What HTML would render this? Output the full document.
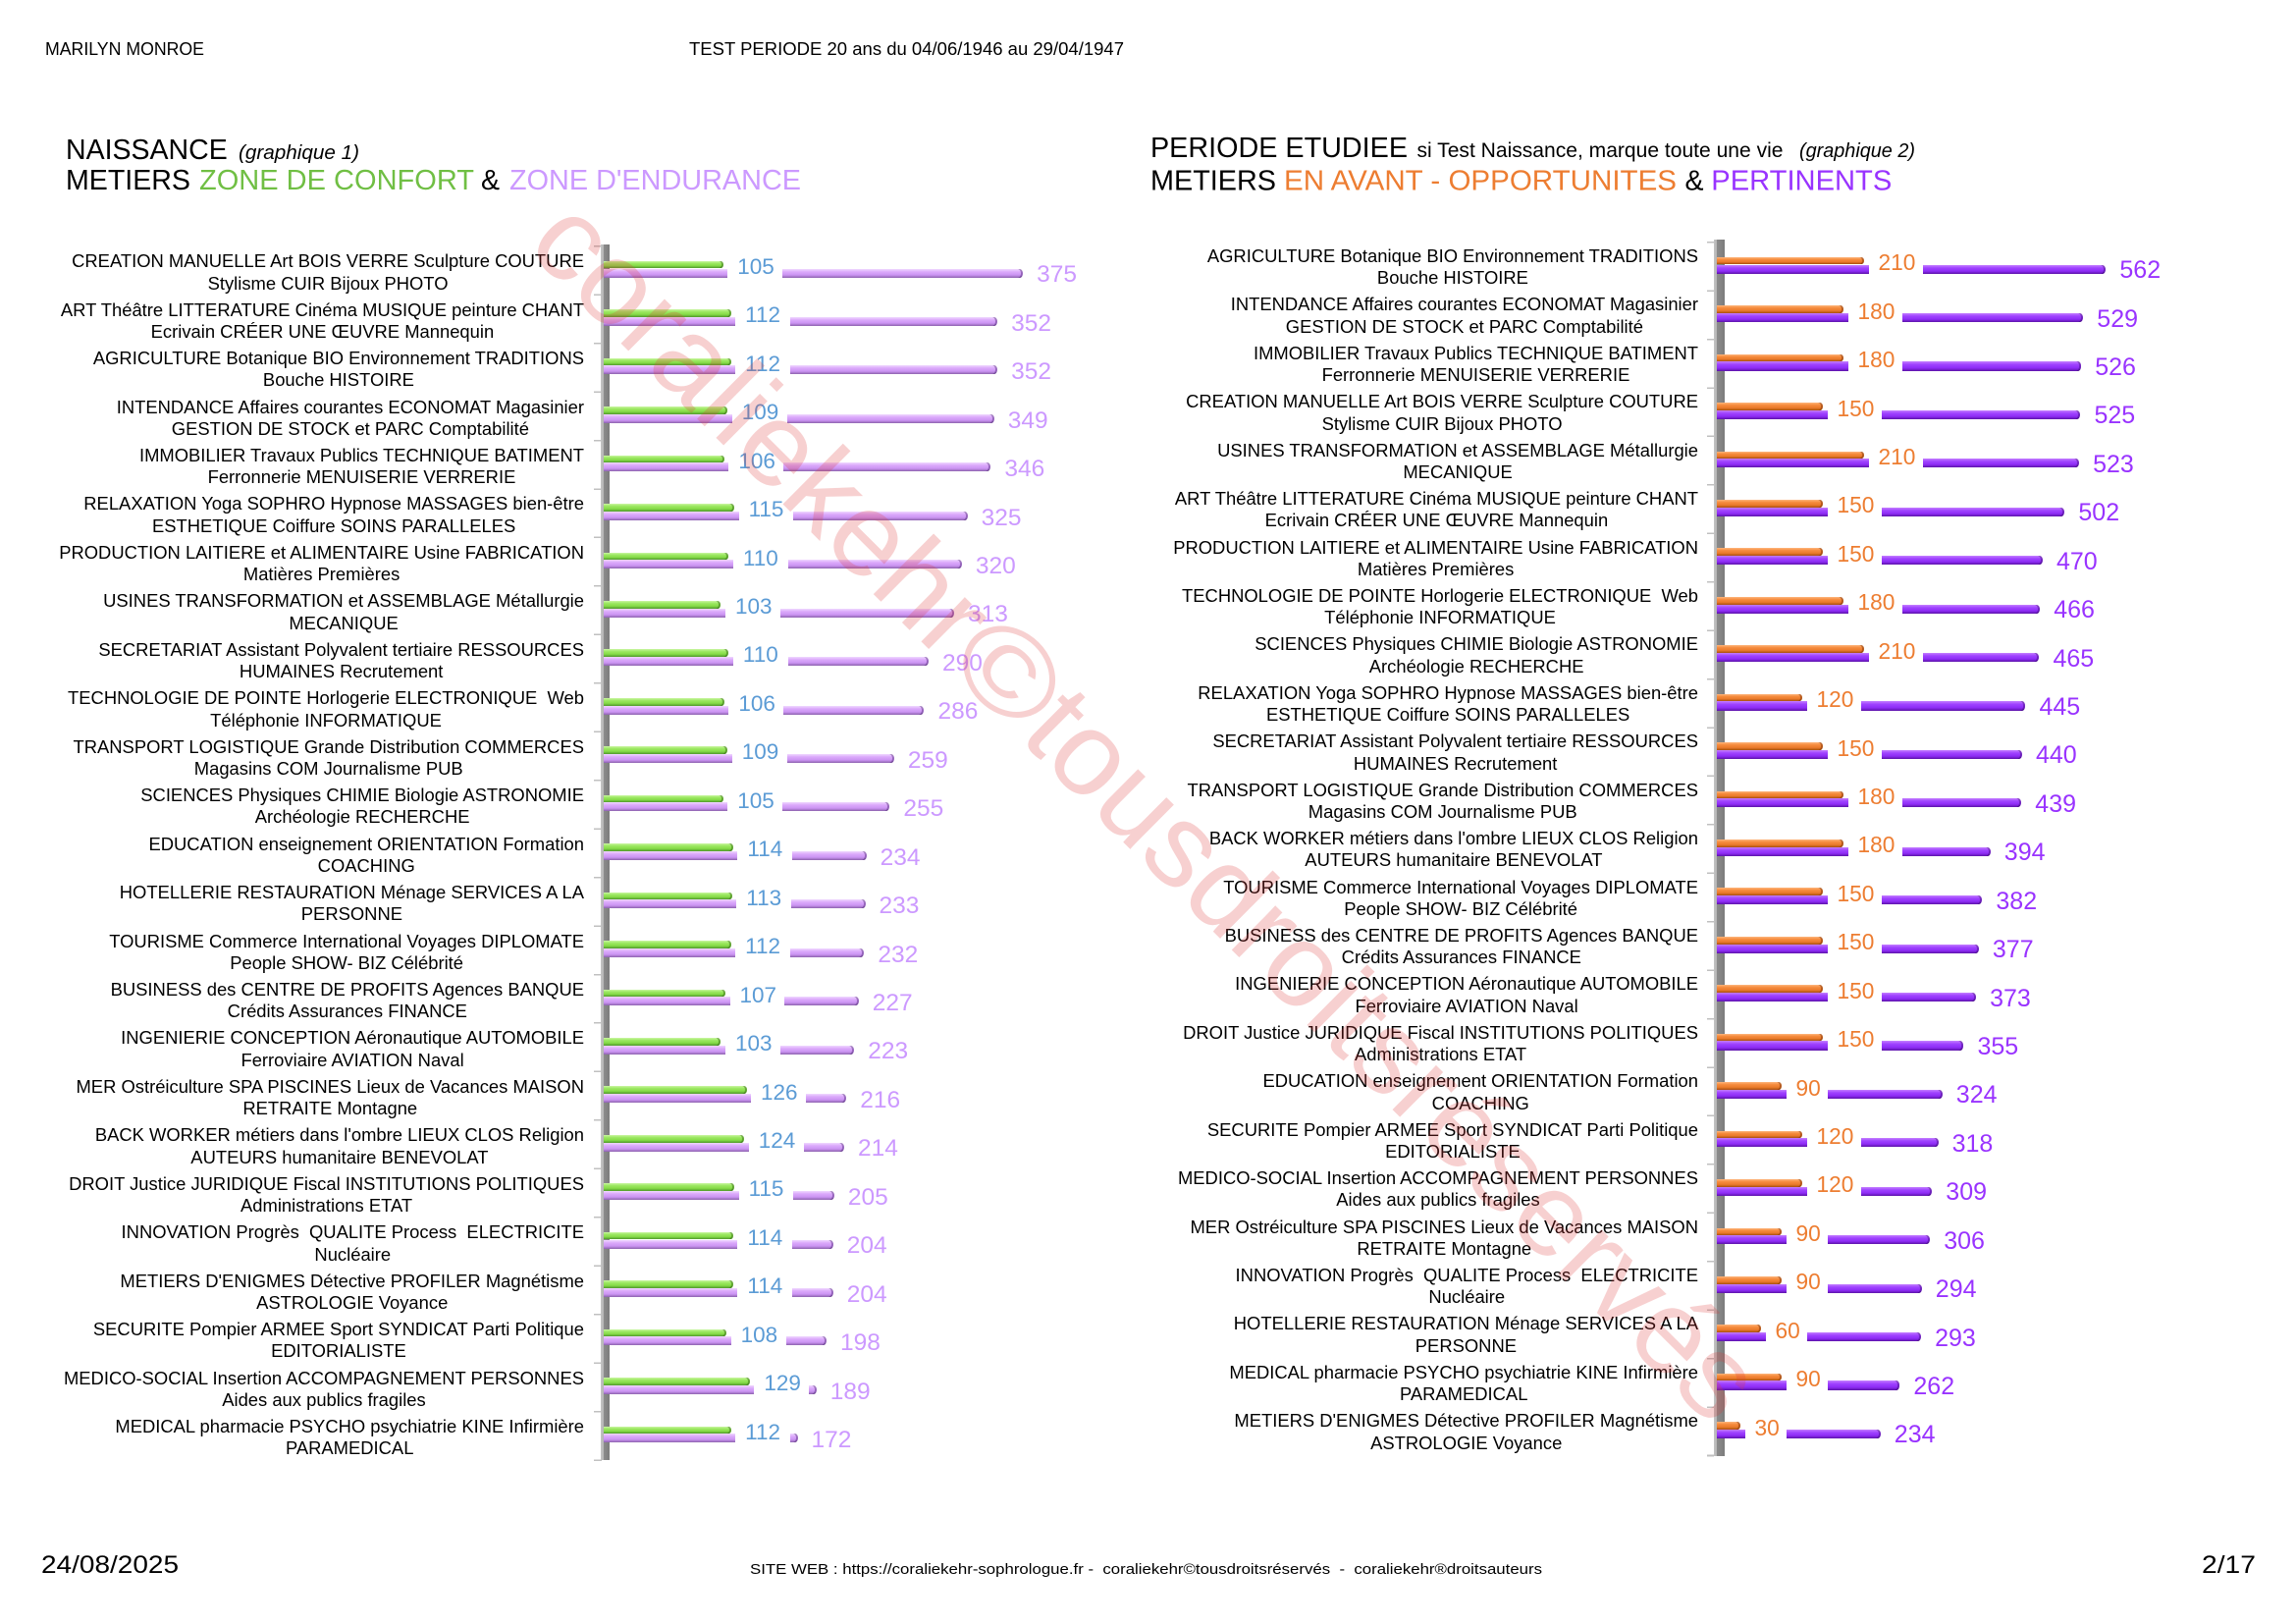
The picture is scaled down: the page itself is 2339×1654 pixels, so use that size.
<!DOCTYPE html>
<html>
<head>
<meta charset="utf-8">
<style>
*{margin:0;padding:0;box-sizing:border-box}
html,body{width:2339px;height:1654px}
body{position:relative;overflow:hidden;background:#fff;font-family:"Liberation Sans",Arial,sans-serif;color:#000}
.r{position:absolute;left:0;width:2339px;height:0}
.r>span{position:absolute;display:block}
.L{top:calc(275.3px + 49.45px*var(--i))}
.R{top:calc(271.7px + 49.43px*var(--i))}
.lab{font-size:18.4px;line-height:22.3px;text-align:center;white-space:pre;color:#000}
.L .lab{right:1744px;top:-20.1px}
.R .lab{right:609px;top:-21.7px}
.v1,.v2{white-space:nowrap;line-height:1;font-weight:normal}
.gg{background:linear-gradient(#cbf6a3 0%,#9de863 30%,#86dc48 65%,#4f982b 100%);border-radius:0 3px 3px 0/0 4px 4px 0;box-shadow:inset -2px 0 0 rgba(40,90,10,.45)}
.ll{background:linear-gradient(#f0d8ff 0%,#dba9fb 32%,#cb94f2 68%,#8c62ad 100%)}
.oo{background:linear-gradient(#fdb67e 0%,#f68c3e 32%,#ea7a2a 68%,#a6500f 100%);border-radius:0 3px 3px 0/0 4px 4px 0;box-shadow:inset -2px 0 0 rgba(110,40,0,.45)}
.pp{background:linear-gradient(#c47fff 0%,#a043ff 32%,#8e2cf5 68%,#5c14a8 100%)}
.cap{border-radius:0 3px 3px 0/0 4.5px 4.5px 0;box-shadow:inset -2px 0 0 rgba(40,0,80,.35)}
/* left chart */
.L .g{left:615px;top:-9.5px;height:7.7px;width:calc(3px + 1.131px*var(--a))}
.L .p1{left:615px;top:-1.8px;height:9px;width:calc(7.5px + 1.131px*var(--a))}
.L .v1{left:calc(632.5px + 1.131px*var(--a));top:-14.45px;font-size:22.5px;color:#5b9bd5}
.L .p2{left:calc(678.4px + 1.131px*var(--a));top:-1.8px;height:9px;width:calc(1.131px*(var(--b) - var(--a)) - 60.4px)}
.L .v2{left:calc(632px + 1.131px*var(--b));top:-7.04px;font-size:24.5px;color:#cc99ff}
/* right chart */
.R{--n:3}
.R .g{left:1749px;top:-9.8px;height:7.6px;width:calc(3px + 0.7px*var(--a))}
.R .p1{left:1749px;top:-2.2px;height:9.2px;width:calc(7.5px + 0.7px*var(--a))}
.R .v1{left:calc(1766.5px + 0.7px*var(--a));top:-15.4px;font-size:22.7px;color:#ed7d31}
.R .p2{left:calc(1772.5px + 0.7px*var(--a) + 13.3px*var(--n));top:-2.2px;height:9.2px;width:calc(0.7px*(var(--b) - var(--a)) - 20.5px - 13.3px*var(--n))}
.R .v2{left:calc(1766px + 0.7px*var(--b));top:-8.56px;font-size:25px;color:#9933ff}
.wall{position:absolute}
</style>
</head>
<body>

<!-- walls & ticks -->
<div class="wall" style="left:612px;top:249px;width:9px;height:1238px;background:linear-gradient(to right,#c4c4c4 0,#b4b4b4 3px,#8c8c8c 3px,#7c7c7c 100%)"></div>
<div class="wall" style="left:605px;top:250px;width:8px;height:1238px;background:repeating-linear-gradient(to bottom,#c0c0c0 0,#c0c0c0 1.5px,transparent 1.5px,transparent 49.45px)"></div>
<div class="wall" style="left:1745.5px;top:244px;width:11px;height:1239px;background:linear-gradient(to right,#c4c4c4 0,#b4b4b4 3px,#8c8c8c 3px,#7c7c7c 100%)"></div>
<div class="wall" style="left:1739px;top:246.3px;width:7px;height:1238px;background:repeating-linear-gradient(to bottom,#c0c0c0 0,#c0c0c0 1.5px,transparent 1.5px,transparent 49.43px)"></div>

<!-- LEFT CHART -->
<div class="r L" style="--i:0;--a:105;--b:375"><span class="lab">CREATION MANUELLE Art BOIS VERRE Sculpture COUTURE<br>Stylisme CUIR Bijoux PHOTO</span><span class="g gg"></span><span class="p1 ll"></span><span class="v1">105</span><span class="p2 ll cap"></span><span class="v2">375</span></div>
<div class="r L" style="--i:1;--a:112;--b:352"><span class="lab">ART Théâtre LITTERATURE Cinéma MUSIQUE peinture CHANT<br>Ecrivain CRÉER UNE ŒUVRE Mannequin</span><span class="g gg"></span><span class="p1 ll"></span><span class="v1">112</span><span class="p2 ll cap"></span><span class="v2">352</span></div>
<div class="r L" style="--i:2;--a:112;--b:352"><span class="lab">AGRICULTURE Botanique BIO Environnement TRADITIONS<br>Bouche HISTOIRE</span><span class="g gg"></span><span class="p1 ll"></span><span class="v1">112</span><span class="p2 ll cap"></span><span class="v2">352</span></div>
<div class="r L" style="--i:3;--a:109;--b:349"><span class="lab">INTENDANCE Affaires courantes ECONOMAT Magasinier<br>GESTION DE STOCK et PARC Comptabilité</span><span class="g gg"></span><span class="p1 ll"></span><span class="v1">109</span><span class="p2 ll cap"></span><span class="v2">349</span></div>
<div class="r L" style="--i:4;--a:106;--b:346"><span class="lab">IMMOBILIER Travaux Publics TECHNIQUE BATIMENT<br>Ferronnerie MENUISERIE VERRERIE</span><span class="g gg"></span><span class="p1 ll"></span><span class="v1">106</span><span class="p2 ll cap"></span><span class="v2">346</span></div>
<div class="r L" style="--i:5;--a:115;--b:325"><span class="lab">RELAXATION Yoga SOPHRO Hypnose MASSAGES bien-être<br>ESTHETIQUE Coiffure SOINS PARALLELES</span><span class="g gg"></span><span class="p1 ll"></span><span class="v1">115</span><span class="p2 ll cap"></span><span class="v2">325</span></div>
<div class="r L" style="--i:6;--a:110;--b:320"><span class="lab">PRODUCTION LAITIERE et ALIMENTAIRE Usine FABRICATION<br>Matières Premières</span><span class="g gg"></span><span class="p1 ll"></span><span class="v1">110</span><span class="p2 ll cap"></span><span class="v2">320</span></div>
<div class="r L" style="--i:7;--a:103;--b:313"><span class="lab">USINES TRANSFORMATION et ASSEMBLAGE Métallurgie<br>MECANIQUE</span><span class="g gg"></span><span class="p1 ll"></span><span class="v1">103</span><span class="p2 ll cap"></span><span class="v2">313</span></div>
<div class="r L" style="--i:8;--a:110;--b:290"><span class="lab">SECRETARIAT Assistant Polyvalent tertiaire RESSOURCES<br>HUMAINES Recrutement</span><span class="g gg"></span><span class="p1 ll"></span><span class="v1">110</span><span class="p2 ll cap"></span><span class="v2">290</span></div>
<div class="r L" style="--i:9;--a:106;--b:286"><span class="lab">TECHNOLOGIE DE POINTE Horlogerie ELECTRONIQUE  Web<br>Téléphonie INFORMATIQUE</span><span class="g gg"></span><span class="p1 ll"></span><span class="v1">106</span><span class="p2 ll cap"></span><span class="v2">286</span></div>
<div class="r L" style="--i:10;--a:109;--b:259"><span class="lab">TRANSPORT LOGISTIQUE Grande Distribution COMMERCES<br>Magasins COM Journalisme PUB</span><span class="g gg"></span><span class="p1 ll"></span><span class="v1">109</span><span class="p2 ll cap"></span><span class="v2">259</span></div>
<div class="r L" style="--i:11;--a:105;--b:255"><span class="lab">SCIENCES Physiques CHIMIE Biologie ASTRONOMIE<br>Archéologie RECHERCHE</span><span class="g gg"></span><span class="p1 ll"></span><span class="v1">105</span><span class="p2 ll cap"></span><span class="v2">255</span></div>
<div class="r L" style="--i:12;--a:114;--b:234"><span class="lab">EDUCATION enseignement ORIENTATION Formation<br>COACHING</span><span class="g gg"></span><span class="p1 ll"></span><span class="v1">114</span><span class="p2 ll cap"></span><span class="v2">234</span></div>
<div class="r L" style="--i:13;--a:113;--b:233"><span class="lab">HOTELLERIE RESTAURATION Ménage SERVICES A LA<br>PERSONNE</span><span class="g gg"></span><span class="p1 ll"></span><span class="v1">113</span><span class="p2 ll cap"></span><span class="v2">233</span></div>
<div class="r L" style="--i:14;--a:112;--b:232"><span class="lab">TOURISME Commerce International Voyages DIPLOMATE<br>People SHOW- BIZ Célébrité</span><span class="g gg"></span><span class="p1 ll"></span><span class="v1">112</span><span class="p2 ll cap"></span><span class="v2">232</span></div>
<div class="r L" style="--i:15;--a:107;--b:227"><span class="lab">BUSINESS des CENTRE DE PROFITS Agences BANQUE<br>Crédits Assurances FINANCE</span><span class="g gg"></span><span class="p1 ll"></span><span class="v1">107</span><span class="p2 ll cap"></span><span class="v2">227</span></div>
<div class="r L" style="--i:16;--a:103;--b:223"><span class="lab">INGENIERIE CONCEPTION Aéronautique AUTOMOBILE<br>Ferroviaire AVIATION Naval</span><span class="g gg"></span><span class="p1 ll"></span><span class="v1">103</span><span class="p2 ll cap"></span><span class="v2">223</span></div>
<div class="r L" style="--i:17;--a:126;--b:216"><span class="lab">MER Ostréiculture SPA PISCINES Lieux de Vacances MAISON<br>RETRAITE Montagne</span><span class="g gg"></span><span class="p1 ll"></span><span class="v1">126</span><span class="p2 ll cap"></span><span class="v2">216</span></div>
<div class="r L" style="--i:18;--a:124;--b:214"><span class="lab">BACK WORKER métiers dans l'ombre LIEUX CLOS Religion<br>AUTEURS humanitaire BENEVOLAT</span><span class="g gg"></span><span class="p1 ll"></span><span class="v1">124</span><span class="p2 ll cap"></span><span class="v2">214</span></div>
<div class="r L" style="--i:19;--a:115;--b:205"><span class="lab">DROIT Justice JURIDIQUE Fiscal INSTITUTIONS POLITIQUES<br>Administrations ETAT</span><span class="g gg"></span><span class="p1 ll"></span><span class="v1">115</span><span class="p2 ll cap"></span><span class="v2">205</span></div>
<div class="r L" style="--i:20;--a:114;--b:204"><span class="lab">INNOVATION Progrès  QUALITE Process  ELECTRICITE<br>Nucléaire</span><span class="g gg"></span><span class="p1 ll"></span><span class="v1">114</span><span class="p2 ll cap"></span><span class="v2">204</span></div>
<div class="r L" style="--i:21;--a:114;--b:204"><span class="lab">METIERS D'ENIGMES Détective PROFILER Magnétisme<br>ASTROLOGIE Voyance</span><span class="g gg"></span><span class="p1 ll"></span><span class="v1">114</span><span class="p2 ll cap"></span><span class="v2">204</span></div>
<div class="r L" style="--i:22;--a:108;--b:198"><span class="lab">SECURITE Pompier ARMEE Sport SYNDICAT Parti Politique<br>EDITORIALISTE</span><span class="g gg"></span><span class="p1 ll"></span><span class="v1">108</span><span class="p2 ll cap"></span><span class="v2">198</span></div>
<div class="r L" style="--i:23;--a:129;--b:189"><span class="lab">MEDICO-SOCIAL Insertion ACCOMPAGNEMENT PERSONNES<br>Aides aux publics fragiles</span><span class="g gg"></span><span class="p1 ll"></span><span class="v1">129</span><span class="p2 ll cap"></span><span class="v2">189</span></div>
<div class="r L" style="--i:24;--a:112;--b:172"><span class="lab">MEDICAL pharmacie PSYCHO psychiatrie KINE Infirmière<br>PARAMEDICAL</span><span class="g gg"></span><span class="p1 ll"></span><span class="v1">112</span><span class="p2 ll cap"></span><span class="v2">172</span></div>

<!-- RIGHT CHART -->
<div class="r R" style="--i:0;--a:210;--b:562"><span class="lab">AGRICULTURE Botanique BIO Environnement TRADITIONS<br>Bouche HISTOIRE</span><span class="g oo"></span><span class="p1 pp"></span><span class="v1">210</span><span class="p2 pp cap"></span><span class="v2">562</span></div>
<div class="r R" style="--i:1;--a:180;--b:529"><span class="lab">INTENDANCE Affaires courantes ECONOMAT Magasinier<br>GESTION DE STOCK et PARC Comptabilité</span><span class="g oo"></span><span class="p1 pp"></span><span class="v1">180</span><span class="p2 pp cap"></span><span class="v2">529</span></div>
<div class="r R" style="--i:2;--a:180;--b:526"><span class="lab">IMMOBILIER Travaux Publics TECHNIQUE BATIMENT<br>Ferronnerie MENUISERIE VERRERIE</span><span class="g oo"></span><span class="p1 pp"></span><span class="v1">180</span><span class="p2 pp cap"></span><span class="v2">526</span></div>
<div class="r R" style="--i:3;--a:150;--b:525"><span class="lab">CREATION MANUELLE Art BOIS VERRE Sculpture COUTURE<br>Stylisme CUIR Bijoux PHOTO</span><span class="g oo"></span><span class="p1 pp"></span><span class="v1">150</span><span class="p2 pp cap"></span><span class="v2">525</span></div>
<div class="r R" style="--i:4;--a:210;--b:523"><span class="lab">USINES TRANSFORMATION et ASSEMBLAGE Métallurgie<br>MECANIQUE</span><span class="g oo"></span><span class="p1 pp"></span><span class="v1">210</span><span class="p2 pp cap"></span><span class="v2">523</span></div>
<div class="r R" style="--i:5;--a:150;--b:502"><span class="lab">ART Théâtre LITTERATURE Cinéma MUSIQUE peinture CHANT<br>Ecrivain CRÉER UNE ŒUVRE Mannequin</span><span class="g oo"></span><span class="p1 pp"></span><span class="v1">150</span><span class="p2 pp cap"></span><span class="v2">502</span></div>
<div class="r R" style="--i:6;--a:150;--b:470"><span class="lab">PRODUCTION LAITIERE et ALIMENTAIRE Usine FABRICATION<br>Matières Premières</span><span class="g oo"></span><span class="p1 pp"></span><span class="v1">150</span><span class="p2 pp cap"></span><span class="v2">470</span></div>
<div class="r R" style="--i:7;--a:180;--b:466"><span class="lab">TECHNOLOGIE DE POINTE Horlogerie ELECTRONIQUE  Web<br>Téléphonie INFORMATIQUE</span><span class="g oo"></span><span class="p1 pp"></span><span class="v1">180</span><span class="p2 pp cap"></span><span class="v2">466</span></div>
<div class="r R" style="--i:8;--a:210;--b:465"><span class="lab">SCIENCES Physiques CHIMIE Biologie ASTRONOMIE<br>Archéologie RECHERCHE</span><span class="g oo"></span><span class="p1 pp"></span><span class="v1">210</span><span class="p2 pp cap"></span><span class="v2">465</span></div>
<div class="r R" style="--i:9;--a:120;--b:445"><span class="lab">RELAXATION Yoga SOPHRO Hypnose MASSAGES bien-être<br>ESTHETIQUE Coiffure SOINS PARALLELES</span><span class="g oo"></span><span class="p1 pp"></span><span class="v1">120</span><span class="p2 pp cap"></span><span class="v2">445</span></div>
<div class="r R" style="--i:10;--a:150;--b:440"><span class="lab">SECRETARIAT Assistant Polyvalent tertiaire RESSOURCES<br>HUMAINES Recrutement</span><span class="g oo"></span><span class="p1 pp"></span><span class="v1">150</span><span class="p2 pp cap"></span><span class="v2">440</span></div>
<div class="r R" style="--i:11;--a:180;--b:439"><span class="lab">TRANSPORT LOGISTIQUE Grande Distribution COMMERCES<br>Magasins COM Journalisme PUB</span><span class="g oo"></span><span class="p1 pp"></span><span class="v1">180</span><span class="p2 pp cap"></span><span class="v2">439</span></div>
<div class="r R" style="--i:12;--a:180;--b:394"><span class="lab">BACK WORKER métiers dans l'ombre LIEUX CLOS Religion<br>AUTEURS humanitaire BENEVOLAT</span><span class="g oo"></span><span class="p1 pp"></span><span class="v1">180</span><span class="p2 pp cap"></span><span class="v2">394</span></div>
<div class="r R" style="--i:13;--a:150;--b:382"><span class="lab">TOURISME Commerce International Voyages DIPLOMATE<br>People SHOW- BIZ Célébrité</span><span class="g oo"></span><span class="p1 pp"></span><span class="v1">150</span><span class="p2 pp cap"></span><span class="v2">382</span></div>
<div class="r R" style="--i:14;--a:150;--b:377"><span class="lab">BUSINESS des CENTRE DE PROFITS Agences BANQUE<br>Crédits Assurances FINANCE</span><span class="g oo"></span><span class="p1 pp"></span><span class="v1">150</span><span class="p2 pp cap"></span><span class="v2">377</span></div>
<div class="r R" style="--i:15;--a:150;--b:373"><span class="lab">INGENIERIE CONCEPTION Aéronautique AUTOMOBILE<br>Ferroviaire AVIATION Naval</span><span class="g oo"></span><span class="p1 pp"></span><span class="v1">150</span><span class="p2 pp cap"></span><span class="v2">373</span></div>
<div class="r R" style="--i:16;--a:150;--b:355"><span class="lab">DROIT Justice JURIDIQUE Fiscal INSTITUTIONS POLITIQUES<br>Administrations ETAT</span><span class="g oo"></span><span class="p1 pp"></span><span class="v1">150</span><span class="p2 pp cap"></span><span class="v2">355</span></div>
<div class="r R" style="--i:17;--a:90;--b:324;--n:2"><span class="lab">EDUCATION enseignement ORIENTATION Formation<br>COACHING</span><span class="g oo"></span><span class="p1 pp"></span><span class="v1">90</span><span class="p2 pp cap"></span><span class="v2">324</span></div>
<div class="r R" style="--i:18;--a:120;--b:318"><span class="lab">SECURITE Pompier ARMEE Sport SYNDICAT Parti Politique<br>EDITORIALISTE</span><span class="g oo"></span><span class="p1 pp"></span><span class="v1">120</span><span class="p2 pp cap"></span><span class="v2">318</span></div>
<div class="r R" style="--i:19;--a:120;--b:309"><span class="lab">MEDICO-SOCIAL Insertion ACCOMPAGNEMENT PERSONNES<br>Aides aux publics fragiles</span><span class="g oo"></span><span class="p1 pp"></span><span class="v1">120</span><span class="p2 pp cap"></span><span class="v2">309</span></div>
<div class="r R" style="--i:20;--a:90;--b:306;--n:2"><span class="lab">MER Ostréiculture SPA PISCINES Lieux de Vacances MAISON<br>RETRAITE Montagne</span><span class="g oo"></span><span class="p1 pp"></span><span class="v1">90</span><span class="p2 pp cap"></span><span class="v2">306</span></div>
<div class="r R" style="--i:21;--a:90;--b:294;--n:2"><span class="lab">INNOVATION Progrès  QUALITE Process  ELECTRICITE<br>Nucléaire</span><span class="g oo"></span><span class="p1 pp"></span><span class="v1">90</span><span class="p2 pp cap"></span><span class="v2">294</span></div>
<div class="r R" style="--i:22;--a:60;--b:293;--n:2"><span class="lab">HOTELLERIE RESTAURATION Ménage SERVICES A LA<br>PERSONNE</span><span class="g oo"></span><span class="p1 pp"></span><span class="v1">60</span><span class="p2 pp cap"></span><span class="v2">293</span></div>
<div class="r R" style="--i:23;--a:90;--b:262;--n:2"><span class="lab">MEDICAL pharmacie PSYCHO psychiatrie KINE Infirmière<br>PARAMEDICAL</span><span class="g oo"></span><span class="p1 pp"></span><span class="v1">90</span><span class="p2 pp cap"></span><span class="v2">262</span></div>
<div class="r R" style="--i:24;--a:30;--b:234;--n:2"><span class="lab">METIERS D'ENIGMES Détective PROFILER Magnétisme<br>ASTROLOGIE Voyance</span><span class="g oo"></span><span class="p1 pp"></span><span class="v1">30</span><span class="p2 pp cap"></span><span class="v2">234</span></div>

<svg width="2339" height="1654" viewBox="0 0 2339 1654" style="position:absolute;left:0;top:0" font-family="Liberation Sans, Arial, sans-serif">
  <!-- header -->
  <text x="46" y="56" font-size="18" textLength="162" lengthAdjust="spacingAndGlyphs">MARILYN MONROE</text>
  <text x="702" y="56" font-size="18" textLength="443" lengthAdjust="spacingAndGlyphs">TEST PERIODE 20 ans du 04/06/1946 au 29/04/1947</text>

  <!-- left title -->
  <text x="67" y="162" font-size="28.5">NAISSANCE</text>
  <text x="243" y="162" font-size="20.5" font-style="italic" textLength="123" lengthAdjust="spacingAndGlyphs">(graphique 1)</text>
  <text x="67" y="193" font-size="28.5" textLength="127" lengthAdjust="spacingAndGlyphs">METIERS</text>
  <text x="203" y="193" font-size="28.5" fill="#70bf44" textLength="280" lengthAdjust="spacingAndGlyphs">ZONE DE CONFORT</text>
  <text x="490" y="193" font-size="28.5">&amp;</text>
  <text x="519" y="193" font-size="28.5" fill="#cc99ff" textLength="297" lengthAdjust="spacingAndGlyphs">ZONE D'ENDURANCE</text>

  <!-- right title -->
  <text x="1172" y="160" font-size="28.5" textLength="262" lengthAdjust="spacingAndGlyphs">PERIODE ETUDIEE</text>
  <text x="1443.5" y="160" font-size="21" textLength="373" lengthAdjust="spacingAndGlyphs">si Test Naissance, marque toute une vie</text>
  <text x="1833" y="160" font-size="20.5" font-style="italic" textLength="118" lengthAdjust="spacingAndGlyphs">(graphique 2)</text>
  <text x="1172" y="193.3" font-size="28.5" textLength="128" lengthAdjust="spacingAndGlyphs">METIERS</text>
  <text x="1308" y="193.3" font-size="28.5" fill="#ed7d31" textLength="400" lengthAdjust="spacingAndGlyphs">EN AVANT - OPPORTUNITES</text>
  <text x="1716.5" y="193.3" font-size="28.5">&amp;</text>
  <text x="1743.3" y="193.3" font-size="28.5" fill="#9933ff" textLength="184" lengthAdjust="spacingAndGlyphs">PERTINENTS</text>

  <!-- footer -->
  <text x="42" y="1602" font-size="25" textLength="140" lengthAdjust="spacingAndGlyphs">24/08/2025</text>
  <text x="764" y="1603" font-size="14.5" textLength="807" lengthAdjust="spacingAndGlyphs" xml:space="preserve">SITE WEB : https://coraliekehr-sophrologue.fr -  coraliekehr©tousdroitsréservés  -  coraliekehr®droitsauteurs</text>
  <text x="2243" y="1602" font-size="25" textLength="55" lengthAdjust="spacingAndGlyphs">2/17</text>

  <!-- watermark -->
  <g transform="translate(534.3,252.1) rotate(44.8)" fill="#dc3c3c" fill-opacity="0.24" font-size="120">
    <text x="0" y="0" textLength="602" lengthAdjust="spacingAndGlyphs">coraliekehr</text>
    <text x="602" y="0" textLength="106" lengthAdjust="spacingAndGlyphs">©</text>
    <text x="708" y="0" textLength="998" lengthAdjust="spacingAndGlyphs">tousdroitsréservés</text>
  </g>
</svg>
</body>
</html>
